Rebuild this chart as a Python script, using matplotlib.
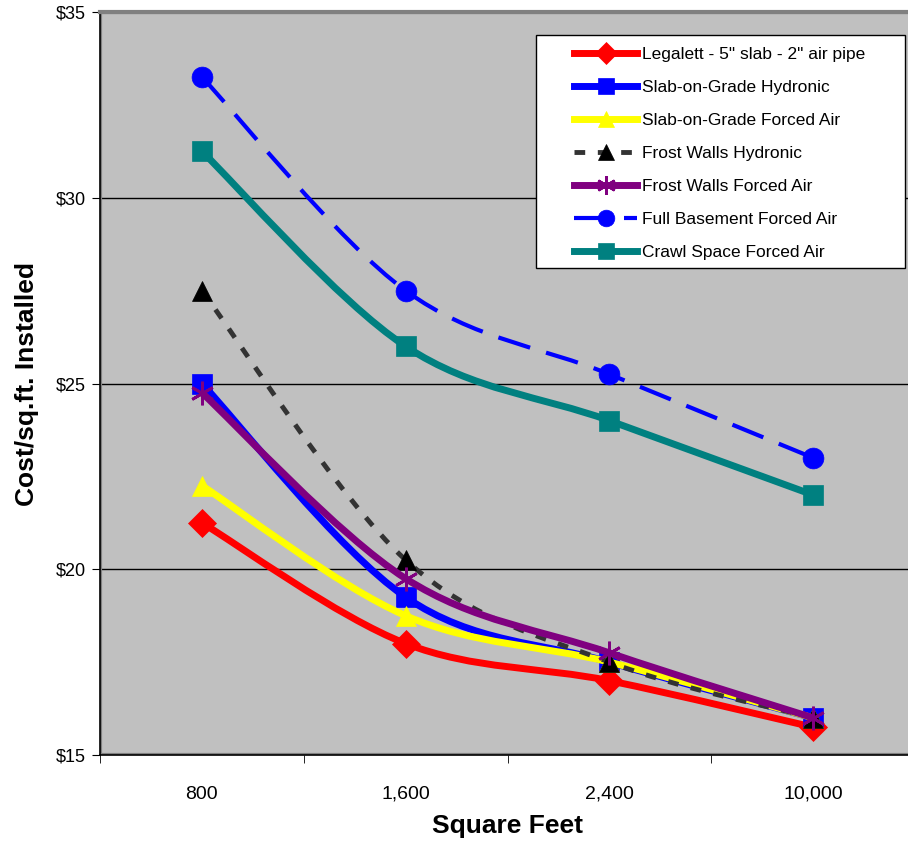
import numpy as np
import matplotlib
matplotlib.use("Agg")
import matplotlib.pyplot as plt
from matplotlib.path import Path
from matplotlib.patches import PathPatch, Rectangle
from matplotlib.lines import Line2D

# data
sizes = ["800", "1,600", "2,400", "10,000"]
legalett = [21.25, 18.0, 17.0, 15.75]
slab_hydronic = [25.0, 19.25, 17.5, 16.0]
slab_forced = [22.25, 18.75, 17.5, 16.0]
frost_hydronic = [27.5, 20.25, 17.5, 16.0]
frost_forced = [24.75, 19.75, 17.75, 16.0]
basement_forced = [33.25, 27.5, 25.25, 23.0]
crawl_forced = [31.25, 26.0, 24.0, 22.0]

names = ['Legalett - 5" slab - 2" air pipe', "Slab-on-Grade Hydronic",
         "Slab-on-Grade Forced Air", "Frost Walls Hydronic",
         "Frost Walls Forced Air", "Full Basement Forced Air",
         "Crawl Space Forced Air"]

FONT = ["Liberation Sans", "DejaVu Sans"]


def smooth_path(xs, ys):
    # excel-like smoothed line as cubic bezier segments
    p = np.column_stack([xs, ys]).astype(float)
    ext = np.vstack([p[0], p, p[-1]])
    verts = [p[0]]
    codes = [Path.MOVETO]
    for i in range(len(p) - 1):
        c1 = ext[i + 1] + (ext[i + 2] - ext[i]) / 6.0
        c2 = ext[i + 2] - (ext[i + 3] - ext[i + 1]) / 6.0
        verts += [c1, c2, ext[i + 2]]
        codes += [Path.CURVE4] * 3
    return Path(verts, codes)


fig = plt.figure(figsize=(9.08, 8.42), dpi=100)
ax = fig.add_axes([100 / 908, 87 / 842, 815 / 908, 743 / 842])
ax.set_facecolor("#C0C0C0")

x = np.arange(len(sizes))

styles = [
    dict(color="#FF0000", lw=5, ls="-", marker="D", ms=14, mc="#FF0000"),
    dict(color="#0000FF", lw=5, ls="-", marker="s", ms=14, mc="#0000FF"),
    dict(color="#FFFF00", lw=5, ls="-", marker="^", ms=15, mc="#FFFF00"),
    dict(color="#333333", lw=3.5, ls=(0, (2.2, 2.6)), marker="^", ms=15, mc="#000000"),
    dict(color="#800080", lw=5, ls="-", marker=(6, 2, 0), ms=17, mc="#800080"),
    dict(color="#0000FF", lw=3, ls=(0, (8, 4)), marker="o", ms=15, mc="#0000FF"),
    dict(color="#008080", lw=5, ls="-", marker="s", ms=14, mc="#008080"),
]
series = [legalett, slab_hydronic, slab_forced, frost_hydronic,
          frost_forced, basement_forced, crawl_forced]

handles = []
for k, (vals, st) in enumerate(zip(series, styles)):
    patch = PathPatch(smooth_path(x, vals), fill=False, edgecolor=st["color"],
                      lw=st["lw"], linestyle=st["ls"], capstyle="butt",
                      joinstyle="round", zorder=3 + k)
    ax.add_patch(patch)
    mew = 2 if k == 4 else 0.5
    ax.plot(x, vals, linestyle="none", marker=st["marker"], ms=st["ms"],
            color=st["mc"], mec=st["mc"], mew=mew, zorder=3 + k)
    handles.append(Line2D([], [], color=st["color"], lw=st["lw"], ls=st["ls"],
                          marker=st["marker"], ms=st["ms"] * 0.8,
                          markerfacecolor=st["mc"], markeredgecolor=st["mc"],
                          mew=mew))

ax.set_xlim(-0.5, 3.5)
ax.set_ylim(15, 35)
ax.set_yticks([15, 20, 25, 30, 35])
ax.set_yticklabels(["$15", "$20", "$25", "$30", "$35"], fontsize=13,
                   family=FONT)
ax.set_xticks(x)
ax.set_xticklabels(sizes, fontsize=14, family=FONT)
ax.set_xticks([-0.5, 0.5, 1.5, 2.5], minor=True)
ax.tick_params(axis="x", which="major", length=0, pad=22)
ax.tick_params(axis="x", which="minor", length=6, direction="out")
ax.tick_params(axis="y", length=6, direction="out", pad=4)
ax.yaxis.grid(True, color="black", lw=1)
ax.set_axisbelow(True)

for s in ["top", "right"]:
    ax.spines[s].set_color("#808080")
    ax.spines[s].set_linewidth(3)
ax.spines["left"].set_linewidth(1.2)
ax.spines["bottom"].set_linewidth(1.2)
ax.add_patch(Rectangle((0, 0), 1, 1, transform=ax.transAxes, fill=False,
                       edgecolor="#808080", lw=3, zorder=2))

ax.set_ylabel("Cost/sq.ft. Installed", fontsize=19, fontweight="bold",
              family=FONT, labelpad=12)
ax.set_xlabel("Square Feet", fontsize=19, fontweight="bold", family=FONT,
              labelpad=8)

# legend box with white background
ax.add_patch(Rectangle((0.535, 0.655), 0.453, 0.314, transform=ax.transAxes,
                       facecolor="white", edgecolor="black", lw=1, zorder=20))
leg = ax.legend(handles, names, loc="upper left",
                bbox_to_anchor=(0.582, 0.953), frameon=False, borderpad=0,
                borderaxespad=0, handlelength=3.6, handletextpad=0.3,
                labelspacing=1.03, prop=dict(family=FONT, size=12.5))
leg.set_zorder(21)

fig.savefig("out.png", dpi=100)
